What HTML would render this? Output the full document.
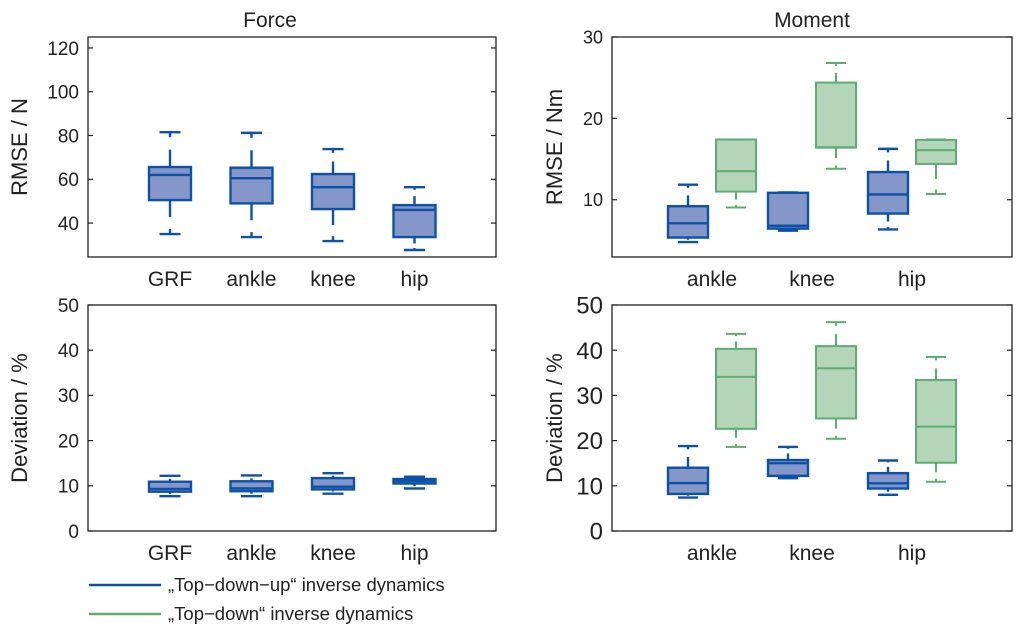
<!DOCTYPE html>
<html><head><meta charset="utf-8">
<style>
html,body{margin:0;padding:0;background:#fff;}
svg{display:block;font-family:"Liberation Sans",Arial,sans-serif;}
</style></head>
<body>
<svg id="chart" width="1024" height="639" viewBox="0 0 1024 639" xmlns="http://www.w3.org/2000/svg">
<text x="270" y="27" font-size="21" text-anchor="middle" fill="#222">Force</text>
<text x="812" y="27" font-size="21" text-anchor="middle" fill="#222">Moment</text>
<g>
<line x1="89" y1="585" x2="161" y2="585" stroke="#0b52a8" stroke-width="2.5"/>
<text x="168" y="591" font-size="18.5" fill="#222">„Top−down−up“ inverse dynamics</text>
<line x1="89" y1="614" x2="161" y2="614" stroke="#5cad72" stroke-width="2.5"/>
<text x="168" y="620" font-size="18.5" fill="#222">„Top−down“ inverse dynamics</text>
</g>
</svg>
<script>
// ---- data: [lowerWhisker, q1, median, q3, upperWhisker]
const forceCats = ["GRF","ankle","knee","hip"];
const forceRmse = [[35,50.5,62,65.6,81.5],[33.6,49,60.5,65.3,81.2],[31.8,46.4,56.4,62.4,73.8],[27.7,33.6,46,48.2,56.4]];
const forceDev = [[7.7,8.7,9.3,10.9,12.2],[7.7,8.8,9.4,11,12.3],[8.25,9.2,9.8,11.7,12.8],[9.4,10.5,11.06,11.5,12]];
const momentCats = ["ankle","knee","hip"];
const momentRmseBlue = [[4.8,5.35,7.1,9.2,11.85],[6.2,6.45,6.8,10.85,10.9],[6.35,8.3,10.65,13.4,16.25]];
const momentRmseGreen = [[9.05,11,13.5,17.4,17.4],[13.8,16.4,16.45,24.4,26.8],[10.7,14.4,16.1,17.35,17.4]];
const momentDevBlue = [[7.4,8.2,10.6,14,18.8],[11.7,12.2,15,15.7,18.6],[8,9.4,10.55,12.8,15.6]];
const momentDevGreen = [[18.6,22.6,34.1,40.3,43.6],[20.4,24.9,36,40.9,46.2],[10.9,15.1,23.1,33.4,38.5]];
const forceRmseTicks = [40,60,80,100,120];
const devTicks = [0,10,20,30,40,50];
const momentRmseTicks = [10,20,30];

const NS="http://www.w3.org/2000/svg";
const svg=document.getElementById('chart');
function el(tag,attrs,parent){const e=document.createElementNS(NS,tag);for(const k in attrs)e.setAttribute(k,attrs[k]);(parent||svg).appendChild(e);return e;}
const BLUE={s:"#0b52a8",f:"#8596c8"}, GREEN={s:"#5cad72",f:"#b5d5b8"};

function panel(o){
  const g=el('g',{});
  
  
  const y=v=>o.y1-(v-o.ymin)/(o.ymax-o.ymin)*(o.y1-o.y0);
  const frame=el('rect',{x:o.x0,y:o.y0,width:o.x1-o.x0,height:o.y1-o.y0,fill:'none',stroke:'#222','stroke-width':1.3},g);
  
  
  o.ticks.forEach(t=>{
    const yy=y(t);
    el('line',{x1:o.x0,x2:o.x0+5,y1:yy,y2:yy,stroke:'#222','stroke-width':1.2},g);
    el('line',{x1:o.x1,x2:o.x1-5,y1:yy,y2:yy,stroke:'#222','stroke-width':1.2},g);
    const tl=el('text',{x:o.x0-9,y:yy+o.tfs*0.36,'font-size':o.tfs,'text-anchor':'end',fill:'#222'},g);
    tl.textContent=t;
    
    
  });
  const yt=el('text',{x:0,y:0,'font-size':22,'text-anchor':'middle',fill:'#222',transform:`translate(${o.titleX},${(o.y0+o.y1)/2}) rotate(-90)`},g);
  yt.textContent=o.ytitle;
  
  
  o.cats.forEach((c,i)=>{
    const cx=o.cx0+i*o.step;
    const xl=el('text',{x:cx,y:o.y1+29,'font-size':21,'text-anchor':'middle',fill:'#222'},g);
    xl.textContent=c;
    
    
    o.series.forEach(s=>{
      const d=s.data[i], bx=cx+s.off, w=o.bw;
      const bg=el('g',{},g);
      
      
      const sw=s.col===BLUE?2.4:2;
      const yl=y(d[0]),yq1=y(d[1]),ym=y(d[2]),yq3=y(d[3]),yh=y(d[4]);
      const up=yq3-yh, dn=yl-yq1;
      if(up>1){el('line',{x1:bx,x2:bx,y1:yq3,y2:yq3-up*0.5,stroke:s.col.s,'stroke-width':sw},bg);
        el('line',{x1:bx,x2:bx,y1:yh,y2:yh+Math.min(5,up*0.15),stroke:s.col.s,'stroke-width':sw},bg);}
      if(dn>1){el('line',{x1:bx,x2:bx,y1:yq1,y2:yq1+dn*0.5,stroke:s.col.s,'stroke-width':sw},bg);
        el('line',{x1:bx,x2:bx,y1:yl,y2:yl-Math.min(5,dn*0.15),stroke:s.col.s,'stroke-width':sw},bg);}
      el('line',{x1:bx-w*0.25,x2:bx+w*0.25,y1:yh,y2:yh,stroke:s.col.s,'stroke-width':sw},bg);
      el('line',{x1:bx-w*0.25,x2:bx+w*0.25,y1:yl,y2:yl,stroke:s.col.s,'stroke-width':sw},bg);
      el('rect',{x:bx-w/2,y:yq3,width:w,height:Math.max(0.5,yq1-yq3),fill:s.col.f,stroke:s.col.s,'stroke-width':sw},bg);
      el('line',{x1:bx-w/2,x2:bx+w/2,y1:ym,y2:ym,stroke:s.col.s,'stroke-width':sw},bg);
    });
  });
}
panel({name:'force-rmse-panel',x0:88,x1:496,y0:37,y1:257,ymin:24.5,ymax:125,ticks:forceRmseTicks,tfs:19,titleX:27,ytitle:'RMSE / N',
  cats:forceCats,cx0:170,step:81.5,bw:42,series:[{key:'top-down-up',data:forceRmse,col:BLUE,off:0}]});
panel({name:'force-deviation-panel',x0:88,x1:496,y0:305,y1:531,ymin:0,ymax:50,ticks:devTicks,tfs:19,titleX:27,ytitle:'Deviation / %',
  cats:forceCats,cx0:170,step:81.5,bw:42,series:[{key:'top-down-up',data:forceDev,col:BLUE,off:0}]});
panel({name:'moment-rmse-panel',x0:612,x1:1012,y0:37,y1:257,ymin:2.96,ymax:30,ticks:momentRmseTicks,tfs:18,titleX:562,ytitle:'RMSE / Nm',
  cats:momentCats,cx0:712,step:100,bw:40,series:[{key:'top-down-up',data:momentRmseBlue,col:BLUE,off:-24},{key:'top-down',data:momentRmseGreen,col:GREEN,off:24}]});
panel({name:'moment-deviation-panel',x0:612,x1:1012,y0:305,y1:531,ymin:0,ymax:50,ticks:devTicks,tfs:24,titleX:562,ytitle:'Deviation / %',
  cats:momentCats,cx0:712,step:100,bw:40,series:[{key:'top-down-up',data:momentDevBlue,col:BLUE,off:-24},{key:'top-down',data:momentDevGreen,col:GREEN,off:24}]});
</script>
</body></html>
